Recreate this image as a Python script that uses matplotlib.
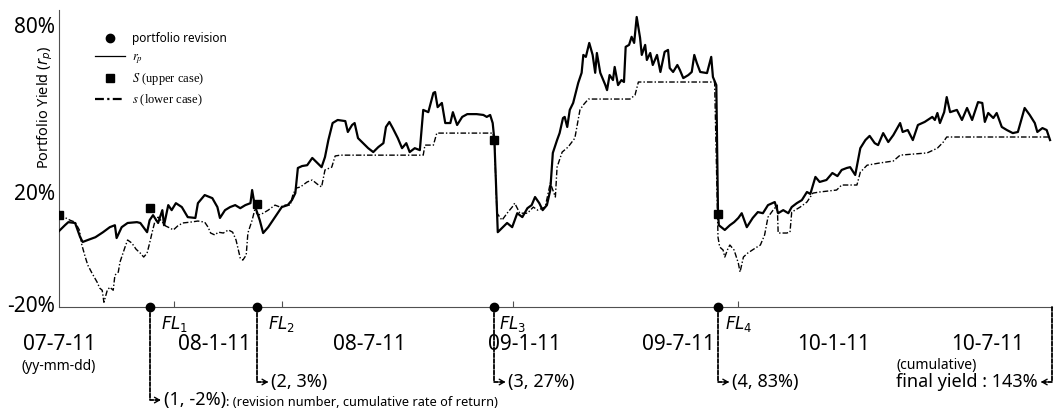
import numpy as np
import matplotlib
matplotlib.use("Agg")
import matplotlib.pyplot as plt
import matplotlib.dates as mdates
from matplotlib.lines import Line2D
from matplotlib.transforms import offset_copy

plt.rcParams["font.family"] = ["Noto Sans", "DejaVu Sans"]
plt.rcParams["mathtext.fontset"] = "dejavusans"

START = np.datetime64("2007-07-11")

# portfolio yield r_p (days since start, %)
rp_days = [0, 7, 11, 19, 25, 28, 34, 43, 52, 60,
           66, 68, 74, 81, 92, 96, 104, 107, 111, 117,
           122, 124, 129, 133, 138, 145, 152, 161, 164, 172,
           181, 187, 190, 196, 202, 208, 214, 220, 226, 228,
           231, 237, 241, 247, 255, 263, 270, 275, 279, 282,
           287, 293, 299, 305, 310, 314, 318, 323, 329, 338,
           341, 346, 349, 353, 359, 365, 371, 377, 383, 386,
           390, 394, 400, 405, 410, 414, 420, 426, 430, 436,
           442, 444, 447, 452, 456, 462, 465, 470, 476, 482,
           493, 501, 505, 509, 512, 514, 518, 524, 529, 535,
           541, 547, 553, 558, 562, 567, 571, 576, 580, 583,
           588, 591, 595, 597, 600, 603, 607, 613, 617, 619,
           622, 626, 630, 633, 635, 639, 645, 647, 650, 654,
           656, 660, 664, 667, 669, 673, 676, 679, 682, 686,
           688, 692, 694, 698, 701, 706, 710, 715, 719, 721,
           725, 730, 733, 737, 743, 747, 750, 753, 757, 765,
           770, 772, 776, 778, 779, 783, 786, 792, 797, 802,
           806, 812, 819, 825, 831, 837, 845, 849, 855, 861,
           865, 871, 877, 883, 887, 893, 898, 906, 913, 919,
           924, 930, 934, 940, 946, 952, 957, 963, 967, 973,
           979, 985, 993, 996, 1002, 1008, 1014, 1022, 1031, 1034,
           1037, 1040, 1045, 1048, 1052, 1060, 1066, 1072, 1078, 1085,
           1090, 1093, 1097, 1103, 1107, 1113, 1119, 1126, 1132, 1137,
           1140, 1146, 1152, 1155, 1161, 1166, 1170]
rp_vals = [6.1, 8.2, 9.3, 9.0, 3.9, 2.2, 2.9, 3.9, 5.7, 7.5,
           8.2, 3.6, 7.5, 9.0, 9.3, 9.0, 5.7, 10.0, 11.8, 9.0,
           13.6, 8.2, 15.4, 13.6, 16.1, 14.7, 11.1, 10.8, 16.1, 19.0,
           17.9, 14.7, 10.8, 13.6, 14.7, 15.4, 14.3, 15.4, 16.1, 20.8,
           15.4, 10.0, 5.4, 7.5, 11.1, 14.7, 15.4, 17.2, 19.7, 28.7,
           29.4, 29.7, 32.3, 30.5, 29.0, 32.6, 38.7, 44.8, 45.9, 45.5,
           41.6, 44.1, 44.8, 39.4, 37.6, 35.8, 34.4, 36.2, 37.6, 43.4,
           45.2, 43.0, 39.4, 35.8, 37.6, 34.4, 35.8, 35.1, 49.5, 48.7,
           55.6, 55.9, 50.5, 52.0, 44.8, 44.8, 48.7, 44.1, 47.0, 48.0,
           48.0, 47.7, 47.0, 47.7, 44.8, 38.7, 5.7, 7.5, 9.0, 7.5,
           12.5, 11.1, 14.3, 15.4, 18.3, 16.1, 13.6, 15.4, 20.8, 34.1,
           38.7, 41.2, 46.6, 47.0, 43.4, 49.5, 52.0, 59.2, 62.8, 69.2,
           68.5, 73.5, 69.2, 62.8, 69.9, 62.8, 58.4, 56.6, 62.0, 60.2,
           64.9, 58.4, 60.2, 59.5, 72.1, 72.8, 75.7, 73.5, 82.8, 75.3,
           69.2, 72.8, 67.4, 69.9, 65.6, 69.2, 63.1, 70.3, 71.0, 64.5,
           63.1, 65.6, 63.8, 60.9, 62.0, 63.1, 69.2, 66.3, 63.1, 62.7,
           68.5, 61.3, 58.4, 12.5, 8.2, 7.2, 6.5, 8.2, 9.3, 10.8,
           12.5, 7.5, 10.8, 12.9, 12.5, 15.4, 16.5, 12.5, 13.6, 12.5,
           14.7, 16.1, 17.2, 20.1, 19.4, 25.5, 23.7, 24.4, 26.9, 25.8,
           28.0, 28.7, 29.0, 26.2, 35.8, 38.7, 40.2, 37.6, 36.9, 41.2,
           38.0, 40.5, 44.8, 41.6, 42.3, 38.7, 44.1, 45.2, 47.0, 45.9,
           48.4, 44.8, 48.7, 54.1, 48.7, 49.5, 45.9, 50.2, 45.9, 52.3,
           52.0, 45.2, 48.4, 46.6, 48.4, 43.4, 42.3, 41.2, 41.6, 47.0,
           50.2, 47.7, 44.8, 41.6, 43.0, 42.3, 38.7]

# lower-case s (days since start, %)
s_days = [0, 6, 13, 19, 24, 27, 31, 34, 39, 45,
          48, 51, 53, 57, 60, 64, 66, 70, 72, 74,
          78, 81, 86, 91, 96, 100, 104, 107, 110, 113,
          117, 122, 126, 131, 135, 140, 146, 155, 164, 172,
          176, 179, 184, 188, 194, 200, 205, 209, 214, 217,
          221, 223, 228, 231, 235, 241, 247, 255, 261, 267,
          273, 276, 280, 285, 293, 299, 305, 310, 314, 322,
          326, 332, 430, 432, 442, 446, 512, 514, 517, 523,
          529, 535, 538, 544, 553, 560, 565, 574, 580, 586,
          588, 594, 601, 609, 615, 619, 625, 674, 680, 684,
          774, 778, 780, 784, 786, 790, 792, 797, 802, 804,
          808, 813, 822, 828, 833, 837, 843, 848, 849, 859,
          863, 865, 869, 875, 883, 890, 898, 918, 924, 942,
          946, 954, 969, 985, 993, 1025, 1037, 1044, 1048, 1170]
s_vals = [12.2, 11.1, 10.0, 9.3, 6.5, 1.1, -3.2, -6.1, -9.0, -12.2,
          -14.3, -15.1, -19.4, -15.1, -14.0, -15.1, -9.7, -8.6, -5.0, -3.2,
          0.4, 2.9, 1.8, -0.4, -1.8, -3.2, -1.8, 1.8, 5.7, 9.3,
          11.1, 9.3, 7.9, 7.2, 6.5, 7.9, 9.0, 9.3, 9.7, 9.3,
          7.5, 5.4, 4.7, 5.7, 5.4, 6.5, 5.7, 2.9, -3.6, -4.3,
          -2.5, 5.4, 10.0, 13.6, 11.8, 12.5, 13.6, 15.4, 14.7, 15.4,
          15.4, 19.0, 21.5, 21.9, 23.7, 24.4, 22.9, 21.9, 28.0, 29.0,
          33.0, 33.3, 33.3, 36.9, 36.9, 41.2, 41.2, 38.7, 12.5, 10.0,
          12.5, 14.7, 16.1, 12.5, 12.5, 14.7, 13.6, 14.7, 23.3, 18.3,
          29.0, 34.4, 36.2, 39.4, 49.5, 51.3, 53.4, 53.4, 54.8, 59.5,
          59.5, 3.9, 0.4, -0.7, -3.2, 0.0, 1.1, -0.7, -5.4, -8.6,
          -3.2, -1.8, 0.0, 1.1, 4.7, 11.1, 13.6, 15.4, 5.4, 5.4,
          5.7, 12.9, 13.6, 14.7, 16.5, 19.7, 20.1, 20.8, 22.6, 22.6,
          27.2, 29.7, 30.5, 31.2, 33.3, 34.1, 35.8, 38.0, 39.8, 39.8]

# upper-case S at each revision
S_days = [0, 107, 234, 514, 778]
S_vals = [11.8, 14.3, 15.8, 38.7, 12.2]

# portfolio revisions and FL points
rev_days = [107, 234, 514, 778]
rev_labels = ["(1, -2%)", "(2, 3%)", "(3, 27%)", "(4, 83%)"]
fl_days = [136, 263, 536, 802]
fl_labels = [r"$FL_1$", r"$FL_2$", r"$FL_3$", r"$FL_4$"]

date_ticks = ["2007-07-11", "2008-01-11", "2008-07-11", "2009-01-11",
              "2009-07-11", "2010-01-11", "2010-07-11"]
date_labels = ["07-7-11", "08-1-11", "08-7-11", "09-1-11",
               "09-7-11", "10-1-11", "10-7-11"]
y_ticks = [-20, 20, 80]
y_labels = ["-20%", "20%", "80%"]
final_text = "final yield : 143%"


def to_num(days):
    return mdates.date2num(START + np.asarray(days).astype("timedelta64[D]"))


S_DASH = (0, (4, 1.5, 1, 1.5))

fig = plt.figure(figsize=(10.59, 4.11), dpi=100)
ax = fig.add_axes([59 / 1059, 104 / 411, 993 / 1059, 297 / 411])

ax.plot(to_num(s_days), s_vals, color="black", lw=1.0, ls=S_DASH, zorder=2)
ax.plot(to_num(rp_days), rp_vals, color="black", lw=1.6, zorder=3)
ax.plot(to_num(S_days), S_vals, ls="none", marker="s", ms=5.5,
        color="black", zorder=4)

x0 = to_num([0])[0]
ax.set_xlim(x0, x0 + 1172.3)
ax.set_ylim(-21.1, 85.3)

for side in ("top", "right"):
    ax.spines[side].set_visible(False)
for side in ("left", "bottom"):
    ax.spines[side].set_color("#505050")
    ax.spines[side].set_linewidth(0.8)

ax.set_xticks(mdates.date2num(np.array(date_ticks, dtype="datetime64[D]")))
ax.set_xticklabels(date_labels)
ax.tick_params(axis="x", which="major", length=0, pad=19.5, labelsize=15)
ax.set_xticks(to_num(fl_days), minor=True)
ax.set_xticklabels(fl_labels, minor=True)
ax.tick_params(axis="x", which="minor", direction="in", length=4, width=0.8,
               color="#505050", pad=5, labelsize=12)
ax.set_yticks(y_ticks)
ax.set_yticklabels(y_labels)
ax.tick_params(axis="y", length=0, pad=3, labelsize=15)

ax.text(-0.0137, 0.673, r"Portfolio Yield ($r_p$)", transform=ax.transAxes,
        rotation=90, ha="center", va="center", fontsize=10.5)

xt = ax.get_xaxis_transform()
ax.annotate("(yy-mm-dd)", xy=(x0, 0), xycoords=xt, xytext=(0, -42.5),
            textcoords="offset points", ha="center", va="center", fontsize=10)

# revision dots on the time axis
ax.plot(to_num(rev_days), np.zeros(len(rev_days)), transform=xt, ls="none",
        marker="o", ms=6, color="black", clip_on=False, zorder=6)

LEAD = dict(arrowstyle="-", linestyle=(0, (2.2, 1)), lw=1.3, color="black",
            shrinkA=0, shrinkB=0)
HEAD = dict(arrowstyle="->,head_length=0.35,head_width=0.2", lw=1.0,
            color="black", shrinkA=0, shrinkB=0)


def leader(xy, trans, drop, run):
    """Dashed elbow leader from an axis point, ending in an arrowhead."""
    tip = offset_copy(trans, fig=fig, x=run, y=-drop, units="points")
    ax.annotate("", xy=(xy[0], xy[1]), xycoords=tip, xytext=xy,
                textcoords=trans,
                arrowprops=dict(connectionstyle="angle,angleA=-90,angleB=180,rad=0",
                                **LEAD), annotation_clip=False)
    back = -3.5 if run > 0 else 3.5
    ax.annotate("", xy=(xy[0], xy[1]), xycoords=tip,
                xytext=(back, 0), textcoords="offset points",
                arrowprops=HEAD, annotation_clip=False)


drops = [67, 54, 54, 54]
for d, lab, dr in zip(to_num(rev_days), rev_labels, drops):
    leader((d, 0), xt, dr, 8)
    t = ax.annotate(lab, xy=(d, 0), xycoords=xt, xytext=(10, -dr),
                    textcoords="offset points", ha="left", va="center",
                    fontsize=13, annotation_clip=False)
    if lab.startswith("(1"):
        ax.annotate(": (revision number, cumulative rate of return)",
                    xy=(1, 0), xycoords=t, ha="left", va="bottom",
                    fontsize=9.2)

# cumulative final yield at the end of the axis
leader((1, 0), ax.transAxes, 54, -8)
tf = ax.annotate(final_text, xy=(1, 0), xycoords=ax.transAxes,
                 xytext=(-10, -54), textcoords="offset points",
                 ha="right", va="center", fontsize=13, annotation_clip=False)
ax.annotate("(cumulative)", xy=(0, 1), xycoords=tf, ha="left",
            va="bottom", fontsize=10)

handles = [Line2D([], [], ls="none", marker="o", ms=6, color="black"),
           Line2D([], [], color="black", lw=0.9),
           Line2D([], [], ls="none", marker="s", ms=5.5, color="black"),
           Line2D([], [], color="black", lw=1.6, ls=S_DASH)]
labels = ["portfolio revision", r"$r_p$", r"$S$ (upper case)",
          r"$s$ (lower case)"]
leg = ax.legend(handles, labels, loc="upper left",
                bbox_to_anchor=(0.036, 0.925), frameon=False, fontsize=9,
                handlelength=2.4, handletextpad=0.6, labelspacing=0.45,
                borderpad=0, borderaxespad=0)
leg.get_texts()[0].set_fontsize(8.5)
for t in leg.get_texts()[1:]:
    t.set_fontfamily("Liberation Serif")
    t.set_math_fontfamily("stix")

fig.savefig("out.png", dpi=100)
